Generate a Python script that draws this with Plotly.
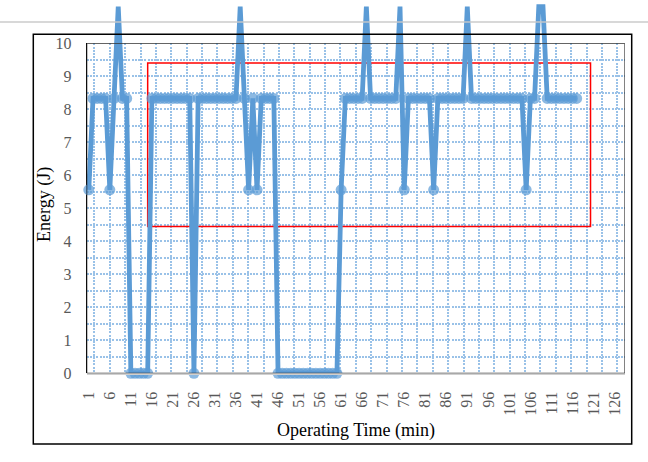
import plotly.graph_objects as go

# ---------------- data ----------------
minutes = list(range(1, 118))
energy = [
    5.56, 8.33, 8.33, 8.33, 8.33, 5.56, 8.33, 11.11, 8.33, 8.33,
    0, 0, 0, 0, 0,
    8.33, 8.33, 8.33, 8.33, 8.33, 8.33, 8.33, 8.33, 8.33, 8.33,
    0,
    8.33, 8.33, 8.33, 8.33, 8.33, 8.33, 8.33, 8.33, 8.33, 8.33,
    11.11, 8.33, 5.56, 8.33, 5.56,
    8.33, 8.33, 8.33, 8.33,
    0, 0, 0, 0, 0, 0, 0, 0, 0, 0, 0, 0, 0, 0, 0,
    5.56, 8.33, 8.33, 8.33, 8.33, 8.33, 11.11,
    8.33, 8.33, 8.33, 8.33, 8.33, 8.33, 8.33, 11.11, 5.56,
    8.33, 8.33, 8.33, 8.33, 8.33, 8.33, 5.56,
    8.33, 8.33, 8.33, 8.33, 8.33, 8.33, 8.33, 11.11,
    8.33, 8.33, 8.33, 8.33, 8.33, 8.33, 8.33, 8.33, 8.33, 8.33, 8.33, 8.33, 8.33,
    5.56, 8.33, 8.33, 11.11, 11.11,
    8.33, 8.33, 8.33, 8.33, 8.33, 8.33, 8.33, 8.33,
]
x_tick_vals = [1, 6, 11, 16, 21, 26, 31, 36, 41, 46, 51, 56, 61, 66, 71, 76,
               81, 86, 91, 96, 101, 106, 111, 116, 121, 126]
x_tick_text = [str(v) for v in x_tick_vals]
y_tick_vals = [0, 1, 2, 3, 4, 5, 6, 7, 8, 9, 10]
highlight_x = [15, 120.3]
highlight_y = [4.45, 9.4]
y_axis_max = 10

# ---------------- layout geometry ----------------
W, H = 648, 462
px_l, px_r = 86.7, 625.0
px_top, px_bot = 43.3, 373.3
xdom = [px_l / W, px_r / W]
ydom = [1 - px_bot / H, 1 - px_top / H]
ydom2 = [1 - px_bot / H, 1.0]
ppu = (px_bot - px_top) / y_axis_max
y2_top = px_bot / ppu
xrange_ = [0.5, 128.5]

BLUE = "#5B9BD5"
GRID = "#9AC2E8"
GDASH = "2px,1.2px"
SERIF = "Liberation Serif"

# markers are not drawn for points beyond the axis maximum (as in the source)
marker_sizes = [0 if v > y_axis_max else 11 for v in energy]

fig = go.Figure()
# helper trace to hold the grid subplot
fig.add_trace(go.Scatter(x=[], y=[], xaxis="x", yaxis="y", showlegend=False,
                         hoverinfo="skip"))
fig.add_trace(go.Scatter(
    x=minutes, y=energy, xaxis="x2", yaxis="y2", mode="lines+markers",
    line=dict(color=BLUE, width=4.8),
    marker=dict(color=BLUE, size=marker_sizes, line=dict(width=0)),
    cliponaxis=False, showlegend=False,
))

tickfont = dict(family=SERIF, size=16, color="#595959")

fig.update_layout(
    template="none",
    width=W, height=H,
    margin=dict(l=0, r=0, t=0, b=0, pad=0, autoexpand=False),
    paper_bgcolor="white",
    plot_bgcolor="rgba(0,0,0,0)",
    xaxis=dict(domain=xdom, range=xrange_, anchor="y", automargin=False,
               showgrid=True, gridcolor=GRID, gridwidth=1.6, griddash=GDASH,
               tick0=0.5 + 64 / 35, dtick=128 / 35, tickmode="linear",
               showticklabels=False, ticks="", zeroline=False, showline=False),
    yaxis=dict(domain=ydom, range=[0, y_axis_max], anchor="x", automargin=False,
               tickmode="array", tickvals=y_tick_vals,
               showgrid=True, gridcolor=GRID, gridwidth=1.6, griddash=GDASH,
               minor=dict(dtick=0.5, tick0=0, showgrid=True, gridcolor=GRID,
                          gridwidth=1.6, griddash=GDASH, ticks=""),
               tickfont=tickfont, ticks="", ticklabelstandoff=11,
               zeroline=False, showline=True, linecolor="black", linewidth=1),
    xaxis2=dict(domain=xdom, range=xrange_, anchor="y2", automargin=False,
                tickmode="array", tickvals=x_tick_vals, ticktext=x_tick_text,
                tickangle=-90, tickfont=tickfont, ticks="", ticklabelstandoff=10,
                showgrid=False, zeroline=False,
                showline=True, linecolor="#D0D0D0", linewidth=2),
    yaxis2=dict(domain=ydom2, range=[0, y2_top], anchor="x2", automargin=False,
                showgrid=False, zeroline=False, showline=False,
                showticklabels=False, ticks=""),
    shapes=[
        dict(type="line", xref="paper", yref="paper", x0=0, x1=1,
             y0=1 - 22 / H, y1=1 - 22 / H,
             line=dict(color="rgba(200,200,200,0.7)", width=2), layer="above"),
        dict(type="rect", xref="paper", yref="paper",
             x0=33.3 / W, x1=631.7 / W, y0=1 - 444 / H, y1=1 - 34.3 / H,
             line=dict(color="black", width=1.5), layer="above"),
        dict(type="rect", xref="x", yref="y", x0=xrange_[0], x1=xrange_[1],
             y0=0, y1=y_axis_max, line=dict(color="#303030", width=1.2),
             layer="above"),
        dict(type="rect", xref="x2", yref="y2",
             x0=highlight_x[0], x1=highlight_x[1],
             y0=highlight_y[0], y1=highlight_y[1],
             line=dict(color="#FF0000", width=1.5), layer="between"),
    ],
    annotations=[
        dict(text="Energy (J)", xref="paper", yref="paper", x=44 / W, y=1 - 205 / H,
             xanchor="center", yanchor="middle",
             textangle=-90, showarrow=False,
             font=dict(family=SERIF, size=18, color="black")),
        dict(text="Operating Time (min)", xref="paper", yref="paper",
             x=356 / W, y=1 - 430 / H, xanchor="center", yanchor="middle",
             showarrow=False,
             font=dict(family=SERIF, size=18, color="black")),
    ],
)

fig.write_html("out.html", config={"displayModeBar": False},
               post_script="document.body.style.margin='0px';")
